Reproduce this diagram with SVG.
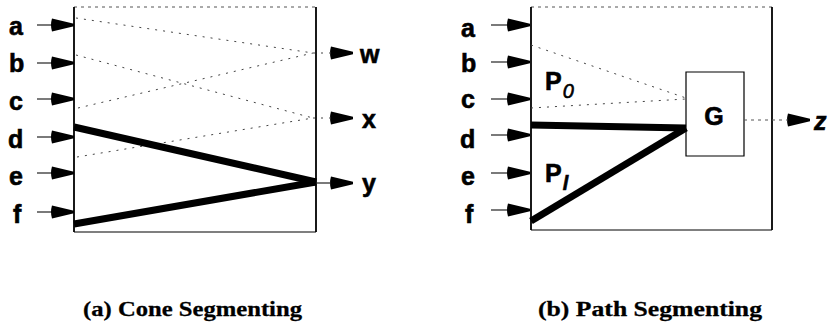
<svg xmlns="http://www.w3.org/2000/svg" xmlns:xlink="http://www.w3.org/1999/xlink" width="828" height="327" viewBox="0 0 828 327">
<style>
.lbl{font-family:"Liberation Sans",Arial,sans-serif;font-weight:bold;font-size:25px;fill:#000;stroke:#000;stroke-width:0.6}
.cap{font-family:"Liberation Serif","Times New Roman",serif;font-weight:bold;font-size:22px;fill:#000;stroke:#000;stroke-width:0.3}
.edge{stroke:#000;stroke-width:1.8;fill:none}
.faint{stroke:#555;stroke-width:1;fill:none;stroke-dasharray:3 4}
.dot{stroke:#444;stroke-width:1;fill:none;stroke-dasharray:2 6}
.thick{stroke:#000;stroke-width:7;fill:none;stroke-linecap:butt}
.stub{stroke:#222;stroke-width:1.2;fill:none}
</style>
<defs>
<path id="arr" d="M-22,-6.5 L0,-1.2 L0,1.2 L-22,6.5 Q-24,0 -22,-6.5 Z" fill="#000"/>
</defs>
<rect width="828" height="327" fill="#fff"/>

<!-- Panel (a) -->
<g id="panelA-box">
<line class="faint" x1="74" y1="7" x2="316" y2="7"/>
<line class="edge" x1="74" y1="7" x2="74" y2="232"/>
<line class="edge" x1="316" y1="7" x2="316" y2="232"/>
<line class="edge" x1="74" y1="232" x2="316" y2="232" style="stroke-width:1.2"/>
</g>
<g id="a-in-a"><line class="stub" x1="37" y1="25" x2="52" y2="25"/><use xlink:href="#arr" x="74" y="25"/><text class="lbl" x="9" y="35">a</text></g>
<g id="a-in-b"><line class="stub" x1="37" y1="63" x2="52" y2="63"/><use xlink:href="#arr" x="74" y="63"/><text class="lbl" x="9" y="72">b</text></g>
<g id="a-in-c"><line class="stub" x1="37" y1="99" x2="52" y2="99"/><use xlink:href="#arr" x="74" y="99"/><text class="lbl" x="9" y="110">c</text></g>
<g id="a-in-d"><line class="stub" x1="37" y1="137" x2="52" y2="137"/><use xlink:href="#arr" x="74" y="137"/><text class="lbl" x="8" y="148">d</text></g>
<g id="a-in-e"><line class="stub" x1="37" y1="173" x2="52" y2="173"/><use xlink:href="#arr" x="74" y="173"/><text class="lbl" x="9" y="185">e</text></g>
<g id="a-in-f"><line class="stub" x1="37" y1="212" x2="52" y2="212"/><use xlink:href="#arr" x="74" y="212"/><text class="lbl" x="13" y="223">f</text></g>
<g id="a-out-w"><use xlink:href="#arr" x="353" y="53"/><text class="lbl" x="360" y="63">w</text></g>
<g id="a-out-x"><use xlink:href="#arr" x="353" y="118"/><text class="lbl" x="362" y="128">x</text></g>
<g id="a-out-y"><use xlink:href="#arr" x="353" y="183"/><text class="lbl" x="362" y="192">y</text></g>

<g id="connectors-a">
<line class="dot" x1="76" y1="18" x2="313" y2="53"/>
<line class="dot" x1="76" y1="55" x2="313" y2="118"/>
<line class="dot" x1="78" y1="108" x2="313" y2="53"/>
<line class="dot" x1="77" y1="157" x2="313" y2="118"/>
<line class="dot" x1="313" y1="53" x2="331" y2="53"/>
<line class="dot" x1="313" y1="118" x2="331" y2="118"/>
<line class="thick" x1="74" y1="127" x2="316" y2="182"/>
<line class="thick" x1="74" y1="224" x2="316" y2="182"/>
<line class="stub" x1="316" y1="183" x2="331" y2="183"/>
</g>

<!-- Panel (b) -->
<g id="panelB-box">
<line class="faint" x1="531" y1="7" x2="772" y2="7"/>
<line class="edge" x1="531" y1="7" x2="531" y2="230"/>
<line class="edge" x1="772" y1="7" x2="772" y2="230"/>
<line class="edge" x1="531" y1="230" x2="772" y2="230" style="stroke-width:1"/>
</g>
<g id="b-in-a"><line class="stub" x1="491" y1="25" x2="507" y2="25"/><use xlink:href="#arr" x="530" y="25"/><text class="lbl" x="461" y="37">a</text></g>
<g id="b-in-b"><line class="stub" x1="491" y1="62" x2="507" y2="62"/><use xlink:href="#arr" x="530" y="62"/><text class="lbl" x="461" y="72">b</text></g>
<g id="b-in-c"><line class="stub" x1="491" y1="99" x2="507" y2="99"/><use xlink:href="#arr" x="530" y="99"/><text class="lbl" x="461" y="108">c</text></g>
<g id="b-in-d"><line class="stub" x1="491" y1="135" x2="507" y2="135"/><use xlink:href="#arr" x="530" y="135"/><text class="lbl" x="460" y="148">d</text></g>
<g id="b-in-e"><line class="stub" x1="491" y1="173" x2="507" y2="173"/><use xlink:href="#arr" x="530" y="173"/><text class="lbl" x="461" y="185">e</text></g>
<g id="b-in-f"><line class="stub" x1="491" y1="210" x2="507" y2="210"/><use xlink:href="#arr" x="530" y="210"/><text class="lbl" x="465" y="223">f</text></g>
<g id="G">
<path d="M686,72 L744,72 L744,156 L686,156 Z" fill="none" stroke="#000" stroke-width="1.2"/>
<text class="lbl" x="714" y="125" text-anchor="middle">G</text>
</g>
<g id="P0"><text class="lbl" x="545" y="90">P<tspan font-style="italic" font-weight="normal" font-size="20" dy="8" dx="1">0</tspan></text></g>
<g id="P1"><text class="lbl" x="545" y="182">P<tspan font-style="italic" font-weight="bold" font-size="20" dy="8" dx="1">l</tspan></text></g>
<g id="b-out-z"><use xlink:href="#arr" x="810" y="120"/><text class="lbl" x="814" y="130" font-style="italic" font-size="20">z</text></g>

<g id="connectors-b">
<line class="dot" x1="531" y1="45" x2="686" y2="98"/>
<line class="dot" x1="531" y1="108" x2="686" y2="99"/>
<line class="thick" x1="531" y1="125" x2="686" y2="128"/>
<line class="thick" x1="531" y1="221" x2="686" y2="128"/>
<line class="faint" x1="744" y1="120" x2="788" y2="120"/>
</g>

<g id="captions">
<text class="cap" x="83" y="316" textLength="219" lengthAdjust="spacingAndGlyphs">(a) Cone Segmenting</text>
<text class="cap" x="538" y="316" textLength="224" lengthAdjust="spacingAndGlyphs">(b) Path Segmenting</text>
</g>
</svg>
